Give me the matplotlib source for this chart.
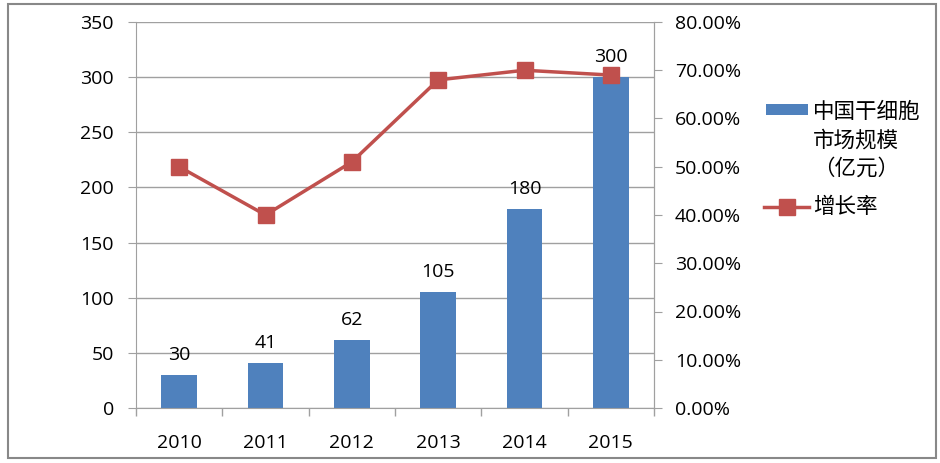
import matplotlib
matplotlib.use("Agg")
import matplotlib.pyplot as plt
from matplotlib.ticker import FuncFormatter, MultipleLocator
from matplotlib.lines import Line2D
from matplotlib.patches import Rectangle

plt.rcParams['font.family'] = ['Open Sans', 'Noto Sans CJK SC', 'DejaVu Sans']

years = ['2010', '2011', '2012', '2013', '2014', '2015']
market_size = [30, 41, 62, 105, 180, 300]
growth_rate = [0.50, 0.40, 0.51, 0.68, 0.70, 0.69]
legend_labels = ['中国干细胞', '市场规模', '（亿元）', '增长率']

bar_color = '#4F81BD'
line_color = '#C0504D'
grid_color = '#A0A0A0'
fs = 14

W, H = 940, 463
def fx(px):
    return px / W
def fy(py):
    return 1 - py / H

fig = plt.figure(figsize=(9.4, 4.63), dpi=100)
ax = fig.add_axes([fx(136), fy(408), (654-136)/W, (408-22)/H])
x = list(range(len(years)))
ax.bar(x, market_size, width=0.41, color=bar_color, zorder=2)
for xi, v in zip(x, market_size):
    ax.annotate(str(v), (xi, v), xytext=(0, 8), textcoords='offset points',
                ha='center', va='bottom', fontsize=fs, color='#000000')
ax.set_xlim(-0.5, len(years) - 0.5)
ax.set_ylim(0, 350)
ax.yaxis.set_major_locator(MultipleLocator(50))
ax.grid(axis='y', color=grid_color, lw=1.0, zorder=0)
ax.set_axisbelow(True)
ax.set_xticks(x)
ax.set_xticklabels(years)
ax.set_xticks([i - 0.5 for i in range(len(years) + 1)], minor=True)
ax.tick_params(axis='x', which='major', length=0, pad=19, labelsize=fs)
ax.tick_params(axis='x', which='minor', length=6, color=grid_color, width=1)
ax.tick_params(axis='y', length=6, color=grid_color, pad=10, labelsize=fs)
ax.spines['top'].set_visible(False)
for s in ['left', 'bottom', 'right']:
    ax.spines[s].set_color(grid_color)

ax2 = ax.twinx()
ax2.plot(x, growth_rate, color=line_color, lw=2.5, marker='s', markersize=11,
         markerfacecolor=line_color, markeredgecolor=line_color, zorder=3)
ax2.set_ylim(0, 0.8)
ax2.yaxis.set_major_locator(MultipleLocator(0.1))
ax2.yaxis.set_major_formatter(FuncFormatter(lambda v, p: f"{v*100:.2f}%"))
ax2.tick_params(axis='y', length=6, color=grid_color, pad=9, labelsize=fs)
for s in ['top', 'left', 'bottom']:
    ax2.spines[s].set_visible(False)
ax2.spines['right'].set_color(grid_color)

# legend drawn manually
cjk = ['Noto Sans CJK SC', 'DejaVu Sans']
fig.patches.append(Rectangle((fx(766), fy(115)), 42/W, 11/H, transform=fig.transFigure,
                             facecolor=bar_color, edgecolor='none'))
fig.lines.append(Line2D([fx(764), fx(809)], [fy(207), fy(207)], transform=fig.transFigure,
                        color=line_color, lw=2.5))
fig.lines.append(Line2D([fx(786.5)], [fy(207)], transform=fig.transFigure,
                        color=line_color, marker='s', markersize=11, lw=0))
for lbl, py in zip(legend_labels, [112, 141, 169, 207]):
    fig.text(fx(813), fy(py), lbl, ha='left', va='center', fontsize=15.5,
             family=cjk, color='#000000')

fig.patches.append(Rectangle((fx(8), fy(458)), 928/W, 454/H,
                             transform=fig.transFigure, fill=False,
                             edgecolor='#888888', lw=1.5))

fig.savefig('out.png', dpi=100)
